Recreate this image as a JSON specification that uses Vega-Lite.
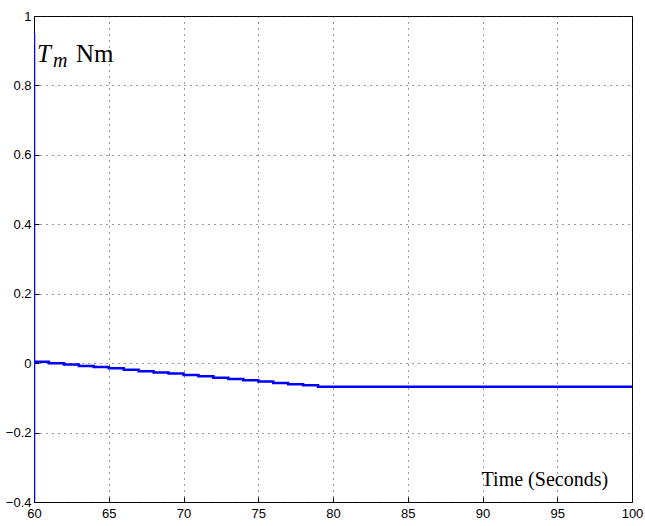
{
  "$schema": "https://vega.github.io/schema/vega-lite/v6.json",
  "width": 598,
  "height": 486,
  "autosize": {"type": "none"},
  "padding": {"left": 34, "top": 16, "right": 13, "bottom": 24},
  "background": "white",
  "config": {
    "view": {"stroke": "black", "strokeWidth": 1},
    "axis": {
      "domain": false,
      "grid": true,
      "gridColor": "#222222",
      "gridDash": [1, 5],
      "gridOpacity": 0.9,
      "gridWidth": 1,
      "ticks": true,
      "tickColor": "black",
      "tickSize": -5,
      "labelFont": "Liberation Sans",
      "labelFontSize": 13,
      "labelColor": "black",
      "title": null
    }
  },
  "layer": [
    {
      "data": {
        "values": [
          {"i": 0, "t": 60, "v": -0.4},
          {"i": 1, "t": 60, "v": 0.95},
          {"i": 2, "t": 60, "v": 0.004},
          {"i": 3, "t": 61, "v": 0.0},
          {"i": 4, "t": 62, "v": -0.004},
          {"i": 5, "t": 63, "v": -0.008},
          {"i": 6, "t": 64, "v": -0.011},
          {"i": 7, "t": 65, "v": -0.015},
          {"i": 8, "t": 66, "v": -0.019},
          {"i": 9, "t": 67, "v": -0.023},
          {"i": 10, "t": 68, "v": -0.027},
          {"i": 11, "t": 69, "v": -0.03},
          {"i": 12, "t": 70, "v": -0.034},
          {"i": 13, "t": 71, "v": -0.038},
          {"i": 14, "t": 72, "v": -0.042},
          {"i": 15, "t": 73, "v": -0.046},
          {"i": 16, "t": 74, "v": -0.049},
          {"i": 17, "t": 75, "v": -0.053},
          {"i": 18, "t": 76, "v": -0.057},
          {"i": 19, "t": 77, "v": -0.061},
          {"i": 20, "t": 78, "v": -0.064},
          {"i": 21, "t": 79, "v": -0.068},
          {"i": 22, "t": 100, "v": -0.068}
        ]
      },
      "mark": {"type": "line", "color": "#0000ff", "strokeWidth": 2.5, "interpolate": "step-after", "clip": true},
      "encoding": {
        "x": {
          "field": "t", "type": "quantitative",
          "scale": {"domain": [60, 100], "nice": false, "zero": false},
          "axis": {"values": [60, 65, 70, 75, 80, 85, 90, 95, 100], "labelPadding": 10, "labelFlush": false}
        },
        "y": {
          "field": "v", "type": "quantitative",
          "scale": {"domain": [-0.4, 1], "nice": false, "zero": false},
          "axis": {"values": [-0.4, -0.2, 0, 0.2, 0.4, 0.6, 0.8, 1], "format": "~g", "labelPadding": 8, "labelFlush": false}
        },
        "order": {"field": "i", "type": "quantitative"}
      }
    },
    {
      "data": {"values": [{"label": "T", "t": 60.2, "v": 0.867}]},
      "mark": {"type": "text", "align": "left", "baseline": "alphabetic", "font": "Liberation Serif", "fontStyle": "italic", "fontSize": 25, "color": "black"},
      "encoding": {"x": {"field": "t", "type": "quantitative"}, "y": {"field": "v", "type": "quantitative"}, "text": {"field": "label"}}
    },
    {
      "data": {"values": [{"label": "m", "t": 61.27, "v": 0.852}]},
      "mark": {"type": "text", "align": "left", "baseline": "alphabetic", "font": "Liberation Serif", "fontStyle": "italic", "fontSize": 20, "color": "black"},
      "encoding": {"x": {"field": "t", "type": "quantitative"}, "y": {"field": "v", "type": "quantitative"}, "text": {"field": "label"}}
    },
    {
      "data": {"values": [{"label": "Nm", "t": 62.81, "v": 0.867}]},
      "mark": {"type": "text", "align": "left", "baseline": "alphabetic", "font": "Liberation Serif", "fontSize": 25, "color": "black"},
      "encoding": {"x": {"field": "t", "type": "quantitative"}, "y": {"field": "v", "type": "quantitative"}, "text": {"field": "label"}}
    },
    {
      "data": {"values": [{"label": "Time (Seconds)", "t": 98.4, "v": -0.354}]},
      "mark": {"type": "text", "align": "right", "baseline": "alphabetic", "font": "Liberation Serif", "fontSize": 20, "color": "black"},
      "encoding": {"x": {"field": "t", "type": "quantitative"}, "y": {"field": "v", "type": "quantitative"}, "text": {"field": "label"}}
    }
  ]
}
